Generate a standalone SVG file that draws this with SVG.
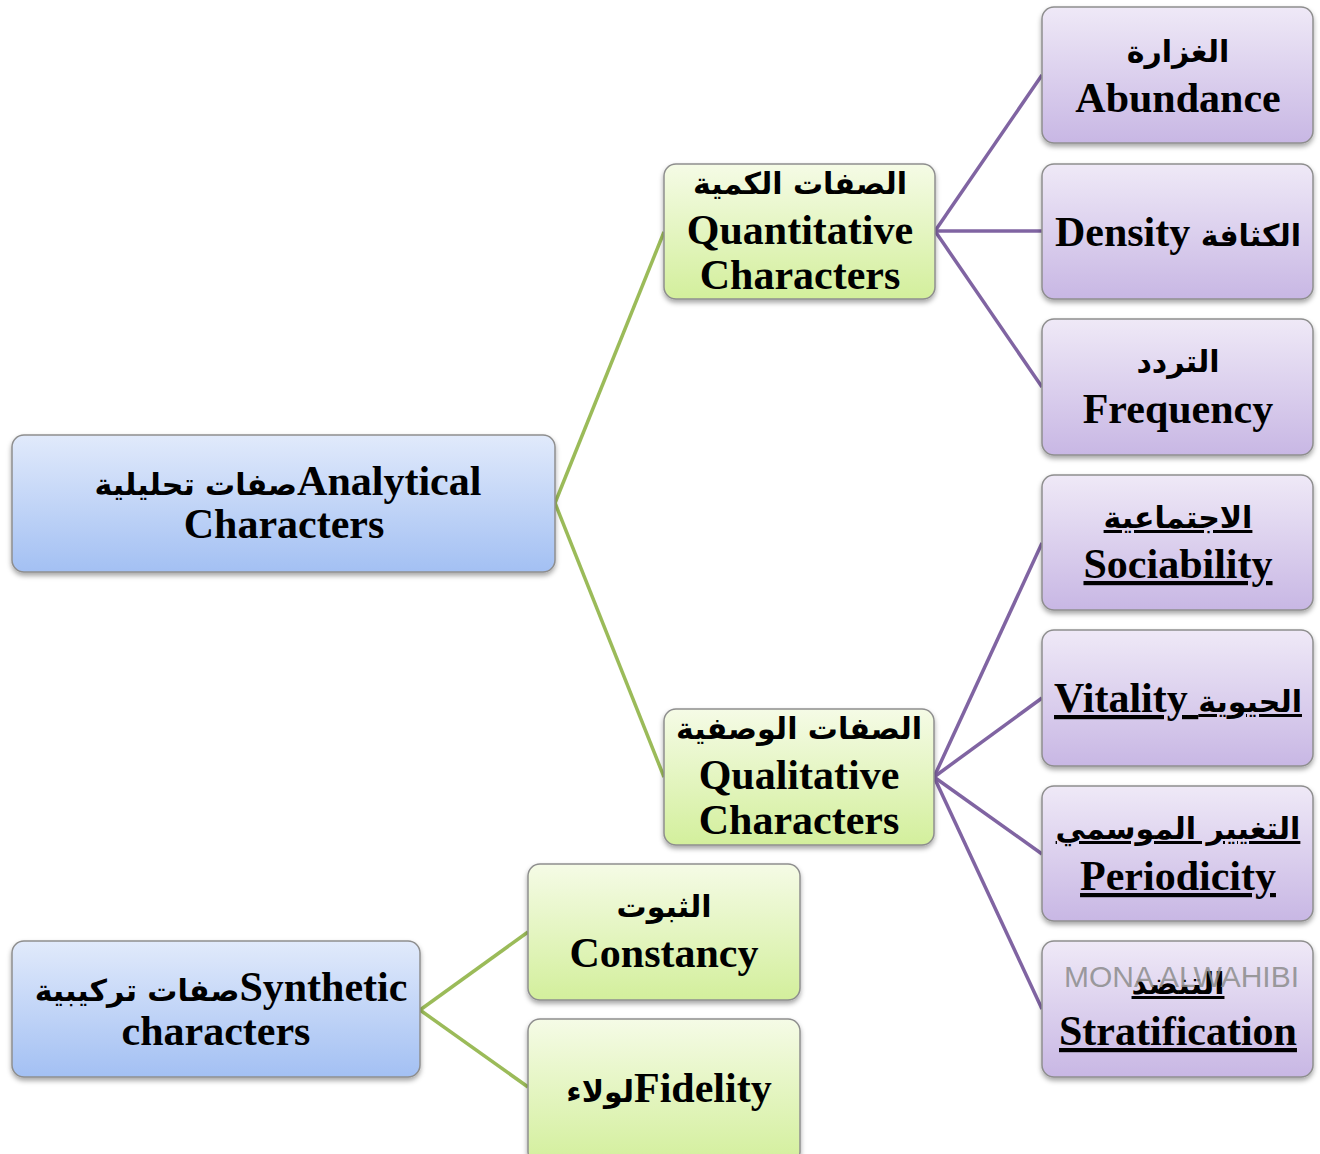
<svg xmlns="http://www.w3.org/2000/svg" width="1320" height="1154" viewBox="0 0 1320 1154">
<defs>
<linearGradient id="gBlue" x1="0" y1="0" x2="0" y2="1"><stop offset="0" stop-color="#e1eafb"/><stop offset="1" stop-color="#a3c0f3"/></linearGradient>
<linearGradient id="gGreen" x1="0" y1="0" x2="0" y2="1"><stop offset="0" stop-color="#f5fbe6"/><stop offset="1" stop-color="#d3ef9c"/></linearGradient>
<linearGradient id="gPurple" x1="0" y1="0" x2="0" y2="1"><stop offset="0" stop-color="#efe9f7"/><stop offset="1" stop-color="#c8b7e4"/></linearGradient>
<filter id="sh" x="-10%" y="-10%" width="120%" height="130%"><feDropShadow dx="0" dy="3" stdDeviation="2.5" flood-color="#000" flood-opacity="0.35"/></filter>
<style>
.box{stroke:#8e8e8e;stroke-width:1.5;filter:url(#sh)}
.blue{fill:url(#gBlue)}
.green{fill:url(#gGreen)}
.purple{fill:url(#gPurple)}
.t{font-family:"Liberation Serif","Times New Roman",serif;font-weight:bold;font-size:42px;fill:#000;text-anchor:middle}
.a{font-family:"DejaVu Sans","Liberation Serif",sans-serif;font-size:30px;font-weight:bold}
.u{text-decoration:underline}
.cg{stroke:#9bbb59;stroke-width:3.5;fill:none}
.cp{stroke:#8064a2;stroke-width:3.5;fill:none}
.wm{font-family:"Liberation Sans",Arial,sans-serif;font-size:30px;fill:#8c8c8c;fill-opacity:0.85}
</style>
</defs>
<rect width="1320" height="1154" fill="#fff"/>
<g id="connectors">
<path class="cg" d="M555 503 L664 232"/>
<path class="cg" d="M555 503 L664 777"/>
<path class="cg" d="M420 1010 L528 932"/>
<path class="cg" d="M420 1010 L528 1087"/>
<path class="cp" d="M935 231 L1042 75"/>
<path class="cp" d="M935 231 L1042 231"/>
<path class="cp" d="M935 231 L1042 387"/>
<path class="cp" d="M934 777 L1042 543"/>
<path class="cp" d="M934 777 L1042 698"/>
<path class="cp" d="M934 777 L1042 854"/>
<path class="cp" d="M934 777 L1042 1009"/>
</g>
<g id="analytical">
<rect class="box blue" x="12" y="435" width="543" height="137" rx="12"/>
<text class="t" x="288" y="495"><tspan class="a">صفات تحليلية</tspan>Analytical</text>
<text class="t" x="284" y="538">Characters</text>
</g>
<g id="synthetic">
<rect class="box blue" x="12" y="941" width="408" height="136" rx="12"/>
<text class="t" x="221" y="1001"><tspan class="a">صفات تركيبية</tspan>Synthetic</text>
<text class="t" x="216" y="1045">characters</text>
</g>
<g id="quantitative">
<rect class="box green" x="664" y="164" width="271" height="135" rx="12"/>
<text class="t" x="800" y="194"><tspan class="a">الصفات الكمية</tspan></text>
<text class="t" x="800" y="244">Quantitative</text>
<text class="t" x="800" y="289">Characters</text>
</g>
<g id="qualitative">
<rect class="box green" x="664" y="709" width="270" height="136" rx="12"/>
<text class="t" x="799" y="739"><tspan class="a">الصفات الوصفية</tspan></text>
<text class="t" x="799" y="789">Qualitative</text>
<text class="t" x="799" y="834">Characters</text>
</g>
<g id="constancy">
<rect class="box green" x="528" y="864" width="272" height="136" rx="12"/>
<text class="t" x="664" y="917"><tspan class="a">الثبوت</tspan></text>
<text class="t" x="664" y="967">Constancy</text>
</g>
<g id="fidelity">
<rect class="box green" x="528" y="1019" width="272" height="145" rx="12"/>
<text class="t" x="669" y="1102"><tspan class="a">لولاء</tspan>Fidelity</text>
</g>
<g id="abundance">
<rect class="box purple" x="1042" y="7" width="271" height="136" rx="12"/>
<text class="t" x="1178" y="62"><tspan class="a">الغزارة</tspan></text>
<text class="t" x="1178" y="112">Abundance</text>
</g>
<g id="density">
<rect class="box purple" x="1042" y="164" width="271" height="135" rx="12"/>
<text class="t" x="1178" y="246">Density <tspan class="a">الكثافة</tspan></text>
</g>
<g id="frequency">
<rect class="box purple" x="1042" y="319" width="271" height="136" rx="12"/>
<text class="t" x="1178" y="372"><tspan class="a">التردد</tspan></text>
<text class="t" x="1178" y="423">Frequency</text>
</g>
<g id="sociability">
<rect class="box purple" x="1042" y="475" width="271" height="135" rx="12"/>
<text class="t u" x="1178" y="528"><tspan class="a">الاجتماعية</tspan></text>
<text class="t u" x="1178" y="578">Sociability</text>
</g>
<g id="vitality">
<rect class="box purple" x="1042" y="630" width="271" height="136" rx="12"/>
<text class="t u" x="1178" y="712">Vitality <tspan class="a">الحيوية</tspan></text>
</g>
<g id="periodicity">
<rect class="box purple" x="1042" y="786" width="271" height="135" rx="12"/>
<text class="t u" x="1178" y="839"><tspan class="a">التغيير الموسمي</tspan></text>
<text class="t u" x="1178" y="890">Periodicity</text>
</g>
<g id="stratification">
<rect class="box purple" x="1042" y="941" width="271" height="136" rx="12"/>
<text class="t u" x="1178" y="994"><tspan class="a">التنضد</tspan></text>
<text class="t u" x="1178" y="1045">Stratification</text>
</g>
<text class="wm" x="1064" y="987">MONA ALWAHIBI</text>
</svg>
